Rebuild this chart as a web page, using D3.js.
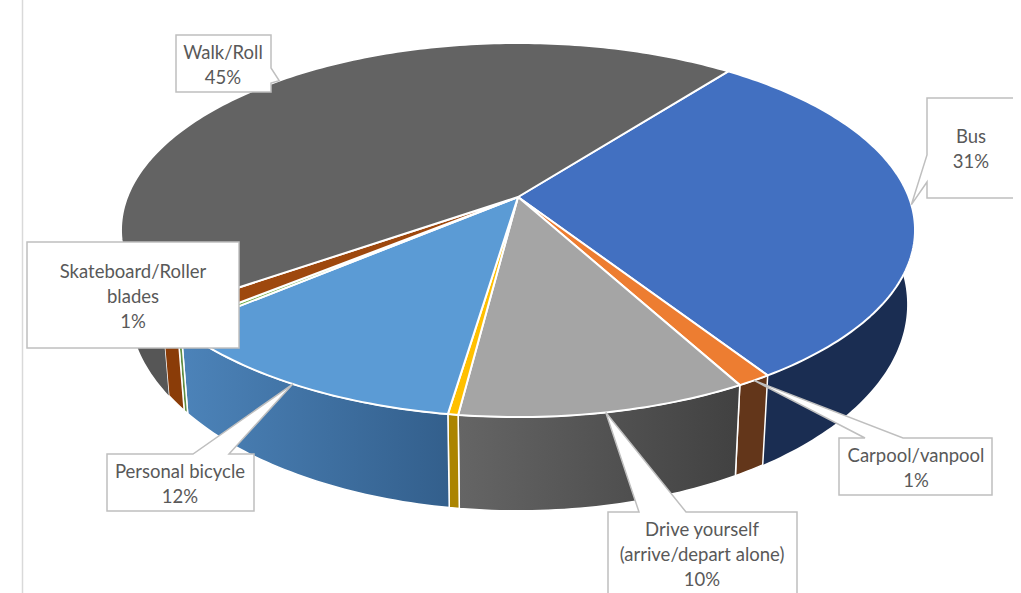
<!DOCTYPE html>
<html>
<head>
<meta charset="utf-8">
<script src="https://cdn.jsdelivr.net/npm/d3@7"></script>
<style>
    html, body { margin: 0; padding: 0; background: #fff; }
    svg { display: block; }
    .callout { fill: #fff; stroke: #bfbfbf; stroke-width: 1.5; }
    .label { font-family: Lato, "Open Sans", sans-serif; font-size: 18.5px; fill: #595959; text-anchor: middle; }
</style>
</head>
<body>
<div id="chart"></div>
<script>
// slices in clockwise order, starting from the Walk/Bus edge
const categories = ["Bus", "Carpool/vanpool", "Drive yourself", "Unlabelled yellow", "Personal bicycle", "Unlabelled green", "Skateboard/Roller blades", "Walk/Roll"];
const shares = [30.4, 1.2, 10.0, 0.35, 11.5, 0.25, 1.2, 45.3];
const percentLabels = ["31%", "1%", "10%", null, "12%", null, "1%", "45%"];
const labelLines = [["Bus"], ["Carpool/vanpool"], ["Drive yourself", "(arrive/depart alone)"], null, ["Personal bicycle"], null, ["Skateboard/Roller", "blades"], ["Walk/Roll"]];

const topColors = ["#4270c1", "#ed7d31", "#a5a5a5", "#ffc000", "#5b9bd5", "#70ad47", "#9e480e", "#636363"];
const sideColors = ["#1a2d52", "#63361a", "url(#driveSide)", "#ab8400", "url(#bikeSide)", "#5f8e42", "#8a3c08", "#565656"];

const width = 1013, height = 593;
const startAngle = 37.8 * Math.PI / 180;

// perspective of the disc: k is the foreshortening, plane is where a unit circle lands
const k = 0.1765;
const topPlane = { cx: 518, cy: 197, a: 390.8, b: 181.2 };
const bottomPlane = { cx: 518, cy: 268, a: 383, b: 200 };

function project(angle, plane) {
    let u = Math.sin(angle), v = -Math.cos(angle);
    let w = 1 - k * v;
    let x = d3.scaleLinear().domain([-1, 1]).range([plane.cx - plane.a, plane.cx + plane.a]);
    let y = d3.scaleLinear().domain([-1, 1]).range([plane.cy - plane.b, plane.cy + plane.b]);
    return [x(u / w), y(v / w)];
}

function arcAngles(a0, a1) {
    let n = Math.max(2, Math.ceil((a1 - a0) / (Math.PI / 180)));
    return d3.range(n + 1).map(i => a0 + (a1 - a0) * i / n);
}

let line = d3.line();

let svg = d3.select("#chart").append("svg")
    .attr("width", width)
    .attr("height", height);

let defs = svg.append("defs");
function sideGradient(id, from, to) {
    let g = defs.append("linearGradient").attr("id", id);
    g.append("stop").attr("offset", "0%").attr("stop-color", from);
    g.append("stop").attr("offset", "100%").attr("stop-color", to);
}
sideGradient("driveSide", "#656565", "#414141");
sideGradient("bikeSide", "#4c83b9", "#335f8c");

// page edge line from the screenshot
svg.append("line")
    .attr("x1", 22.5).attr("x2", 22.5)
    .attr("y1", 0).attr("y2", height)
    .attr("stroke", "#d9d9d9")
    .attr("stroke-width", 1.5);

let pie = d3.pie()
    .sort(null)
    .startAngle(startAngle)
    .endAngle(startAngle + 2 * Math.PI);
let slices = pie(shares);

// only the front of the wall is seen, the top face covers the rest
const wallFrom = 60 * Math.PI / 180, wallTo = 300 * Math.PI / 180;

function wallPath(d) {
    let a0 = d.startAngle, a1 = d.endAngle;
    if (a0 >= wallTo || a1 <= wallFrom) return null;
    let angles = arcAngles(Math.max(a0, wallFrom), Math.min(a1, wallTo));
    let upper = angles.map(a => project(a, topPlane));
    let lower = angles.slice().reverse().map(a => project(a, bottomPlane));
    return line(upper.concat(lower)) + "Z";
}

function topPath(d) {
    let rim = arcAngles(d.startAngle, d.endAngle).map(a => project(a, topPlane));
    return line([[topPlane.cx, topPlane.cy]].concat(rim)) + "Z";
}

svg.append("g").selectAll("path")
    .data(slices)
    .join("path")
    .attr("d", wallPath)
    .attr("fill", (d, i) => sideColors[i])
    .attr("stroke", (d, i) => i === 0 || i === 7 ? "none" : "#fff")
    .attr("stroke-width", 1.5);

svg.append("g").selectAll("path")
    .data(slices)
    .join("path")
    .attr("d", topPath)
    .attr("fill", (d, i) => topColors[i])
    .attr("stroke", "#fff")
    .attr("stroke-width", 2)
    .attr("stroke-linejoin", "round");

// callout layout by slice index: box plus the two tail feet on the box edge
const callouts = [
    { i: 0, box: [927, 98, 1040, 198], side: "left", feet: [155, 182], text: 971, first: 143 },
    { i: 1, box: [839, 438, 992, 495], side: "top", feet: [865, 903], text: 916, first: 462 },
    { i: 2, box: [608, 512, 797, 620], side: "top", feet: [639, 686], text: 702, first: 536 },
    { i: 4, box: [107, 454, 254, 511], side: "top", feet: [193, 229], text: 180, first: 478 },
    { i: 7, box: [176, 35, 271, 92], side: "right", feet: [68, 83], text: 223, first: 59 }
];

function calloutPath(c) {
    let [x0, y0, x1, y1] = c.box;
    let d = slices[c.i];
    let tip = project((d.startAngle + d.endAngle) / 2, topPlane);
    let pts;
    if (c.side === "top") pts = [[x0, y0], [c.feet[0], y0], tip, [c.feet[1], y0], [x1, y0], [x1, y1], [x0, y1]];
    if (c.side === "left") pts = [[x0, y0], [x1, y0], [x1, y1], [x0, y1], [x0, c.feet[1]], tip, [x0, c.feet[0]]];
    if (c.side === "right") pts = [[x0, y0], [x1, y0], [x1, c.feet[0]], tip, [x1, c.feet[1]], [x1, y1], [x0, y1]];
    return line(pts) + "Z";
}

svg.append("g").selectAll("path")
    .data(callouts)
    .join("path")
    .attr("class", "callout")
    .attr("d", calloutPath);

// skateboard label has no tail showing, it sits right on its slice
svg.append("rect")
    .attr("class", "callout")
    .attr("x", 27).attr("y", 242)
    .attr("width", 212).attr("height", 106);

function writeLabel(i, x, firstY) {
    let rows = labelLines[i].concat(percentLabels[i]);
    svg.append("g").selectAll("text")
        .data(rows)
        .join("text")
        .attr("class", "label")
        .attr("x", x)
        .attr("y", (d, r) => firstY + r * 25)
        .text(d => d);
}

callouts.forEach(c => writeLabel(c.i, c.text, c.first));
writeLabel(6, 133, 278);
</script>
</body>
</html>
